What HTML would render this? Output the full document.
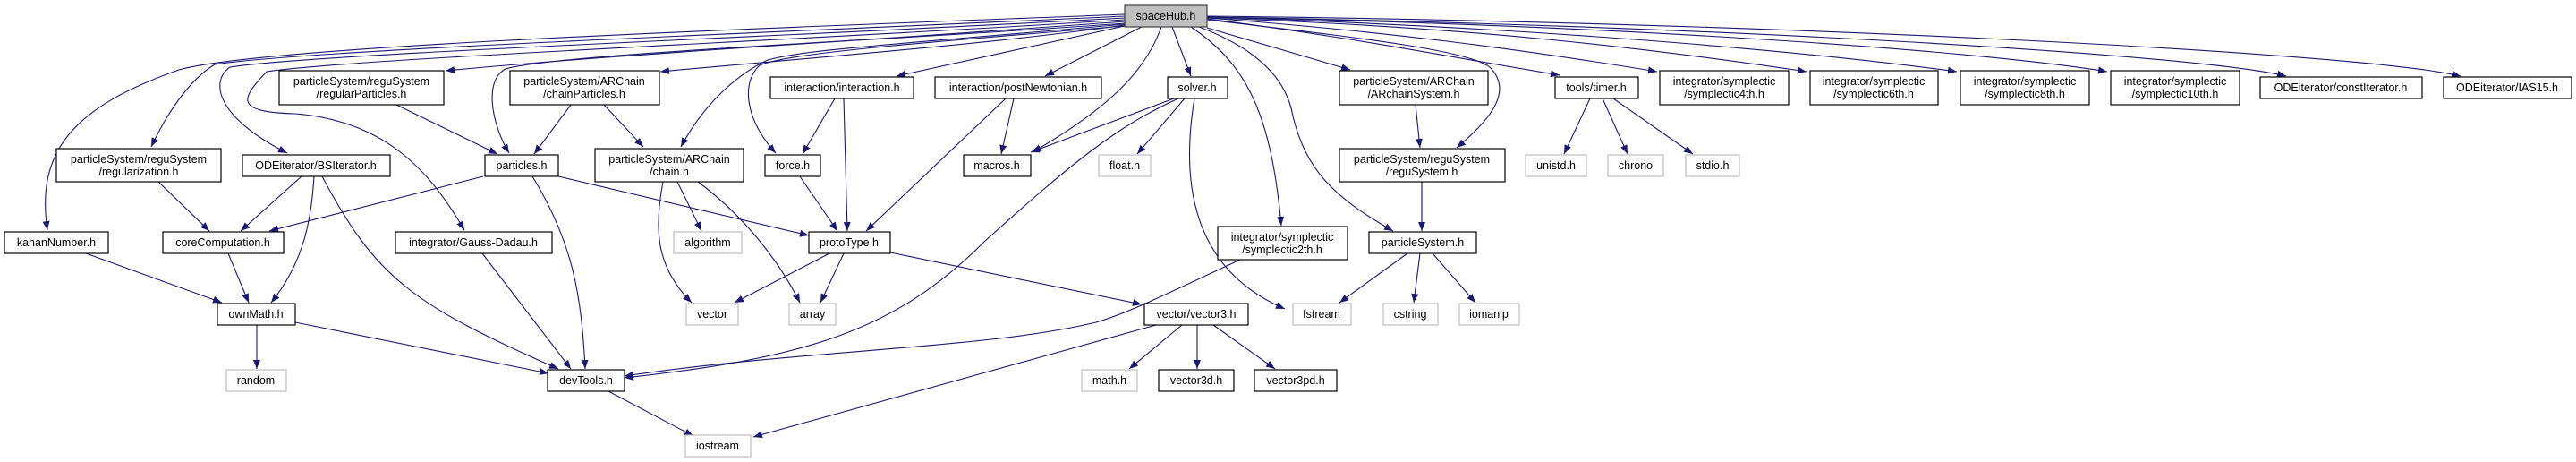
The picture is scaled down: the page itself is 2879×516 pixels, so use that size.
<!DOCTYPE html>
<html><head><meta charset="utf-8"><style>
html,body{margin:0;padding:0;background:#fff}
svg{display:block}
text{font-family:"Liberation Sans",Arial,sans-serif;font-size:12.5px;fill:#000;text-anchor:middle}
.b{fill:#fff;stroke:#000;stroke-width:1.2}
.g{fill:#fff;stroke:#bfbfbf;stroke-width:1.2}
.e{fill:none;stroke:#191970;stroke-width:1.1;marker-end:url(#a)}
</style></head><body>
<svg width="2879" height="516" viewBox="0 0 2879 516" xmlns="http://www.w3.org/2000/svg">
<defs><marker id="a" viewBox="0 0 10 8" refX="10" refY="4" markerWidth="10" markerHeight="8" markerUnits="userSpaceOnUse" orient="auto"><path d="M0,0L10,4L0,8z" fill="#191970"/></marker></defs>

<!-- edges from spaceHub -->
<path class="e" d="M1257,16 C900,30 300,50 200,78 C80,120 40,170 53,257"/>
<path class="e" d="M1257,18 C900,35 350,55 240,72 C210,90 185,130 169,164"/>
<path class="e" d="M1257,20 C900,40 350,60 257,75 C235,90 240,130 321,171"/>
<path class="e" d="M1257,22 C900,45 400,65 298,80 C270,110 260,125 330,127 C430,135 480,190 519,257"/>
<path class="e" d="M1257,24 C900,50 700,60 498,79"/>
<path class="e" d="M1257,26 C1000,45 620,60 565,77 C540,90 550,140 569,171"/>
<path class="e" d="M1257,28 C1100,50 900,65 738,80"/>
<path class="e" d="M1257,27 C1000,50 900,55 858,67 C830,80 790,110 761,164"/>
<path class="e" d="M1257,29 C1000,50 880,60 849,73 C830,90 830,130 867,171"/>
<path class="e" d="M1257,29 L1002,85"/>
<path class="e" d="M1276,30 L1168,85"/>
<path class="e" d="M1298,30 C1280,80 1240,120 1154,170"/>
<path class="e" d="M1310,30 L1331,85"/>
<path class="e" d="M1331,30 C1390,70 1420,120 1432,252"/>
<path class="e" d="M1349,31 L1509,78"/>
<path class="e" d="M1340,30 C1420,60 1440,100 1445,130 C1460,190 1490,220 1557,258"/>
<path class="e" d="M1349,22 C1500,40 1640,55 1665,75 C1690,100 1670,130 1628,165"/>
<path class="e" d="M1349,21 C1500,40 1600,60 1743,84"/>
<path class="e" d="M1349,20 C1550,35 1700,55 1852,80"/>
<path class="e" d="M1349,20 C1650,30 1850,55 2019,80"/>
<path class="e" d="M1349,19 C1700,30 2000,55 2187,80"/>
<path class="e" d="M1349,19 C1800,28 2200,55 2355,80"/>
<path class="e" d="M1349,19 C1900,28 2450,60 2555,85"/>
<path class="e" d="M1349,18 C2000,25 2650,60 2750,85"/>

<!-- other edges -->
<path class="e" d="M443,117 L556,172"/>
<path class="e" d="M638,117 L597,172"/>
<path class="e" d="M675,117 L719,164"/>
<path class="e" d="M177,203 L234,258"/>
<path class="e" d="M337,197 L269,258"/>
<path class="e" d="M351,197 C348,240 342,290 303,338"/>
<path class="e" d="M360,197 C420,310 460,340 624,412"/>
<path class="e" d="M540,197 L301,258"/>
<path class="e" d="M595,197 C640,270 650,330 654,412"/>
<path class="e" d="M624,197 L904,263"/>
<path class="e" d="M741,203 C730,260 735,300 773,338"/>
<path class="e" d="M757,203 L784,258"/>
<path class="e" d="M780,203 C830,240 870,290 894,338"/>
<path class="e" d="M96,283 L248,338"/>
<path class="e" d="M255,283 L278,338"/>
<path class="e" d="M539,283 L638,412"/>
<path class="e" d="M287,363 L287,412"/>
<path class="e" d="M330,360 L613,417"/>
<path class="e" d="M680,437 L775,487"/>
<path class="e" d="M933,110 L897,172"/>
<path class="e" d="M943,110 L947,258"/>
<path class="e" d="M894,197 L936,258"/>
<path class="e" d="M1124,110 L968,258"/>
<path class="e" d="M1133,110 L1119,172"/>
<path class="e" d="M1312,110 L1152,170"/>
<path class="e" d="M1324,110 L1271,172"/>
<path class="e" d="M1317,110 C1250,140 1200,180 1100,270 C1000,370 900,400 698,422"/>
<path class="e" d="M1335,110 C1320,200 1330,300 1436,345"/>
<path class="e" d="M927,283 L821,338"/>
<path class="e" d="M943,283 L917,338"/>
<path class="e" d="M995,282 L1276,340"/>
<path class="e" d="M1386,290 C1300,330 1260,350 1225,360 C1100,390 900,390 698,420"/>
<path class="e" d="M1292,363 L842,488"/>
<path class="e" d="M1321,363 L1262,412"/>
<path class="e" d="M1338,363 L1338,412"/>
<path class="e" d="M1356,363 L1425,412"/>
<path class="e" d="M1582,117 L1587,165"/>
<path class="e" d="M1589,203 L1589,258"/>
<path class="e" d="M1573,283 L1497,338"/>
<path class="e" d="M1587,283 L1580,338"/>
<path class="e" d="M1601,283 L1649,338"/>
<path class="e" d="M1777,110 L1748,172"/>
<path class="e" d="M1791,110 L1819,172"/>
<path class="e" d="M1803,110 L1892,172"/>

<!-- nodes -->
<rect x="1257" y="6" width="92" height="24" fill="#bfbfbf" stroke="#404040" stroke-width="1.2"/><text x="1303" y="22">spaceHub.h</text>

<rect class="b" x="312" y="79" width="184" height="38"/><text x="404" y="95">particleSystem/reguSystem</text><text x="404" y="109">/regularParticles.h</text>
<rect class="b" x="570" y="79" width="167" height="38"/><text x="653" y="95">particleSystem/ARChain</text><text x="653" y="109">/chainParticles.h</text>
<rect class="b" x="861" y="86" width="160" height="24"/><text x="941" y="102">interaction/interaction.h</text>
<rect class="b" x="1045" y="86" width="186" height="24"/><text x="1138" y="102">interaction/postNewtonian.h</text>
<rect class="b" x="1305" y="86" width="67" height="24"/><text x="1338" y="102">solver.h</text>
<rect class="b" x="1497" y="79" width="166" height="38"/><text x="1580" y="95">particleSystem/ARChain</text><text x="1580" y="109">/ARchainSystem.h</text>
<rect class="b" x="1738" y="86" width="93" height="24"/><text x="1784" y="102">tools/timer.h</text>
<rect class="b" x="1855" y="79" width="144" height="38"/><text x="1927" y="95">integrator/symplectic</text><text x="1927" y="109">/symplectic4th.h</text>
<rect class="b" x="2023" y="79" width="143" height="38"/><text x="2094" y="95">integrator/symplectic</text><text x="2094" y="109">/symplectic6th.h</text>
<rect class="b" x="2191" y="79" width="144" height="38"/><text x="2263" y="95">integrator/symplectic</text><text x="2263" y="109">/symplectic8th.h</text>
<rect class="b" x="2359" y="79" width="144" height="38"/><text x="2431" y="95">integrator/symplectic</text><text x="2431" y="109">/symplectic10th.h</text>
<rect class="b" x="2526" y="86" width="181" height="24"/><text x="2616" y="102">ODEiterator/constIterator.h</text>
<rect class="b" x="2731" y="86" width="143" height="24"/><text x="2802" y="102">ODEiterator/IAS15.h</text>

<rect class="b" x="63" y="166" width="184" height="37"/><text x="155" y="182">particleSystem/reguSystem</text><text x="155" y="196">/regularization.h</text>
<rect class="b" x="271" y="173" width="165" height="24"/><text x="353" y="189">ODEiterator/BSIterator.h</text>
<rect class="b" x="542" y="173" width="82" height="24"/><text x="583" y="189">particles.h</text>
<rect class="b" x="665" y="166" width="166" height="37"/><text x="748" y="182">particleSystem/ARChain</text><text x="748" y="196">/chain.h</text>
<rect class="b" x="855" y="173" width="62" height="24"/><text x="886" y="189">force.h</text>
<rect class="b" x="1077" y="173" width="75" height="24"/><text x="1114" y="189">macros.h</text>
<rect class="g" x="1228" y="173" width="58" height="24"/><text x="1257" y="189">float.h</text>
<rect class="b" x="1497" y="166" width="185" height="37"/><text x="1589" y="182">particleSystem/reguSystem</text><text x="1589" y="196">/reguSystem.h</text>
<rect class="g" x="1705" y="173" width="68" height="24"/><text x="1739" y="189">unistd.h</text>
<rect class="g" x="1797" y="173" width="62" height="24"/><text x="1828" y="189">chrono</text>
<rect class="g" x="1884" y="173" width="60" height="24"/><text x="1914" y="189">stdio.h</text>

<rect class="b" x="5" y="259" width="116" height="24"/><text x="63" y="275">kahanNumber.h</text>
<rect class="b" x="182" y="259" width="135" height="24"/><text x="249" y="275">coreComputation.h</text>
<rect class="b" x="442" y="259" width="175" height="24"/><text x="529" y="275">integrator/Gauss-Dadau.h</text>
<rect class="g" x="753" y="259" width="76" height="24"/><text x="791" y="275">algorithm</text>
<rect class="b" x="904" y="259" width="91" height="24"/><text x="949" y="275">protoType.h</text>
<rect class="b" x="1361" y="253" width="145" height="37"/><text x="1433" y="269">integrator/symplectic</text><text x="1433" y="283">/symplectic2th.h</text>
<rect class="b" x="1530" y="259" width="120" height="24"/><text x="1590" y="275">particleSystem.h</text>

<rect class="b" x="243" y="339" width="87" height="24"/><text x="286" y="355">ownMath.h</text>
<rect class="g" x="767" y="339" width="58" height="24"/><text x="796" y="355">vector</text>
<rect class="g" x="882" y="339" width="52" height="24"/><text x="908" y="355">array</text>
<rect class="b" x="1279" y="339" width="116" height="24"/><text x="1337" y="355">vector/vector3.h</text>
<rect class="g" x="1445" y="339" width="65" height="24"/><text x="1477" y="355">fstream</text>
<rect class="g" x="1546" y="339" width="61" height="24"/><text x="1576" y="355">cstring</text>
<rect class="g" x="1631" y="339" width="67" height="24"/><text x="1664" y="355">iomanip</text>

<rect class="g" x="253" y="413" width="67" height="24"/><text x="286" y="429">random</text>
<rect class="b" x="612" y="413" width="86" height="24"/><text x="655" y="429">devTools.h</text>
<rect class="g" x="1209" y="413" width="62" height="24"/><text x="1240" y="429">math.h</text>
<rect class="b" x="1295" y="413" width="84" height="24"/><text x="1337" y="429">vector3d.h</text>
<rect class="b" x="1402" y="413" width="92" height="24"/><text x="1448" y="429">vector3pd.h</text>

<rect class="g" x="766" y="486" width="73" height="24"/><text x="802" y="502">iostream</text>
</svg>
</body></html>
